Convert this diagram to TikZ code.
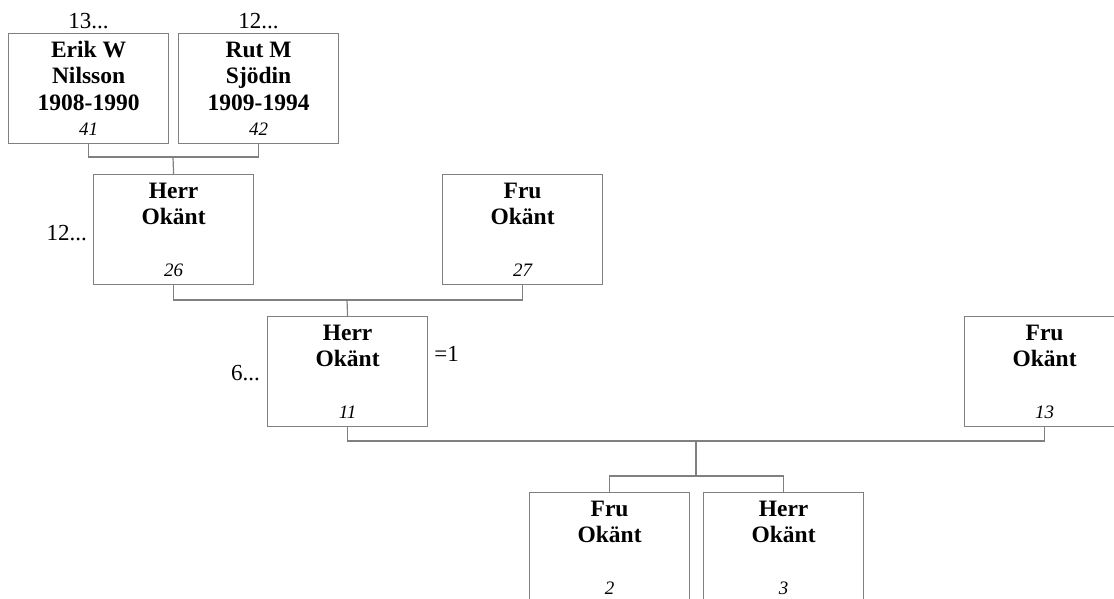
\documentclass[tikz,border=0pt]{standalone}
\usepackage{fontspec}
\setmainfont{Liberation Serif}
\begin{document}
\begin{tikzpicture}[x=1pt,y=-1pt,
  person/.style={draw=black!50,line width=1.2pt,minimum width=160pt,minimum height=110pt,inner sep=0pt,anchor=north west,fill=white},
  ptitle/.style={anchor=base,align=center,font=\fontsize{23.5}{26.5}\selectfont\bfseries,inner sep=0pt},
  pnum/.style={anchor=base,font=\fontsize{19}{22}\selectfont\itshape,inner sep=0pt},
  side/.style={font=\fontsize{23}{26}\selectfont,inner sep=0pt},
  conn/.style={draw=black!50,line width=1.2pt}]
\useasboundingbox (0,0) rectangle (1114,598);
\clip (0,0) rectangle (1114,598);
% boxes
\node[person] (erik) at (8,33) {};
\node[person] (rut) at (178,33) {};
\node[person] (h26) at (93,174) {};
\node[person] (f27) at (442,174) {};
\node[person] (h11) at (267,316) {};
\node[person] (f13) at (964,316) {};
\node[person] (f2) at (529,492) {};
\node[person] (h3) at (703,492) {};
% titles (anchor = baseline of last line)
\node[ptitle] (terik) at ([yshift=-77]erik.north) {Erik W\\Nilsson\\1908-1990};
\node[ptitle] (trut) at ([yshift=-77]rut.north) {Rut M\\Sjödin\\1909-1994};
\node[ptitle] (th26) at ([yshift=-50.5]h26.north) {Herr\\Okänt};
\node[ptitle] (tf27) at ([yshift=-50.5]f27.north) {Fru\\Okänt};
\node[ptitle] (th11) at ([yshift=-50.5]h11.north) {Herr\\Okänt};
\node[ptitle] (tf13) at ([yshift=-50.5]f13.north) {Fru\\Okänt};
\node[ptitle] (tf2) at ([yshift=-50.5]f2.north) {Fru\\Okänt};
\node[ptitle] (th3) at ([yshift=-50.5]h3.north) {Herr\\Okänt};
% numbers
\node[pnum] (nerik) at ([yshift=9]erik.south) {41};
\node[pnum] (nrut) at ([yshift=9]rut.south) {42};
\node[pnum] (nh26) at ([yshift=9]h26.south) {26};
\node[pnum] (nf27) at ([yshift=9]f27.south) {27};
\node[pnum] (nh11) at ([yshift=9]h11.south) {11};
\node[pnum] (nf13) at ([yshift=9]f13.south) {13};
\node[pnum] (nf2) at ([yshift=9]f2.south) {2};
\node[pnum] (nh3) at ([yshift=9]h3.south) {3};
% side labels
\node[side,anchor=base] (l1) at ([yshift=5]erik.north) {13...};
\node[side,anchor=base] (l2) at ([yshift=5]rut.north) {12...};
\node[side,anchor=base east] (l3) at ([xshift=-6,yshift=-66]h26.north west) {12...};
\node[side,anchor=base east] (l4) at ([xshift=-7,yshift=-64]h11.north west) {6...};
\node[side,anchor=base west] (l5) at ([xshift=6,yshift=-45]h11.north east) {=1};
% connectors
\coordinate (j1) at (173,157);
\coordinate (j2) at (347,300);
\coordinate (j3) at (696,441);
\coordinate (j4) at (696,476);
\draw[conn] (erik.south) |- (j1) -| (rut.south);
\draw[conn] (j1) -- (h26.north);
\draw[conn] (h26.south) |- (j2) -| (f27.south);
\draw[conn] (j2) -- (h11.north);
\draw[conn] (h11.south) |- (j3) -| (f13.south);
\draw[conn] (j3) -- (j4);
\draw[conn] (f2.north) |- (j4) -| (h3.north);
\end{tikzpicture}
\end{document}
